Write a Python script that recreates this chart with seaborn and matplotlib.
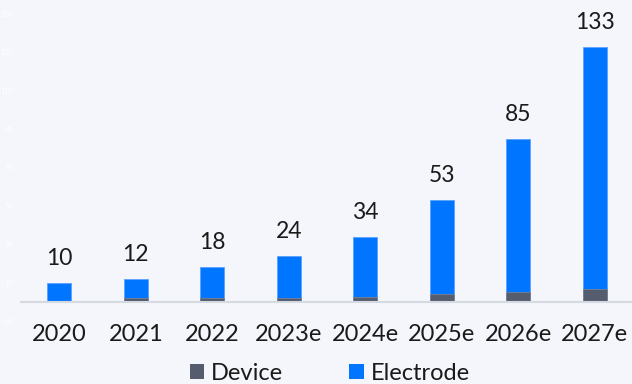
import matplotlib
matplotlib.use("Agg")
import matplotlib.pyplot as plt
from matplotlib.patches import Patch
import seaborn as sns
import pandas as pd

years = ["2020", "2021", "2022", "2023e", "2024e", "2025e", "2026e", "2027e"]
totals = [10, 12, 18, 24, 34, 53, 85, 133]
device = [0, 2, 2, 2, 2.5, 4, 5, 6.5]
electrode = [t - d for t, d in zip(totals, device)]

BG = "#f4f6fb"
BLUE = "#0075ff"
GRAY = "#545c6e"
TEXT = "#1a1a1a"
AXIS = "#d5dae1"
FS = 17

sns.set_theme(style="white")
plt.rcParams["font.family"] = ["Lato", "DejaVu Sans"]

df = pd.DataFrame({"year": years, "total": totals, "device": device, "electrode": electrode})

fig = plt.figure(figsize=(6.32, 3.84), dpi=100, facecolor=BG)
ax = fig.add_axes([21 / 632, 63 / 384, 612 / 632, 307 / 384])
ax.set_facecolor(BG)

# Stack: full column in blue, device share overlaid at the base
sns.barplot(data=df, x="year", y="total", color=BLUE, saturation=1, width=0.31,
            edgecolor="#5aa2ff", linewidth=0.6, ax=ax)
sns.barplot(data=df, x="year", y="device", color=GRAY, saturation=1, width=0.31,
            edgecolor="#7a8294", linewidth=0.6, ax=ax)

for i, t in enumerate(totals):
    ax.annotate(f"{t:g}", (i, t), xytext=(0, 13), textcoords="offset points",
                ha="center", va="baseline", fontsize=FS - 0.5, color=TEXT)

ax.set_ylim(-10, 150)
ax.set_xlim(-0.5, len(years) - 0.5)
ax.set_yticks(range(-10, 151, 20))
ax.tick_params(axis="y", colors="white", labelsize=5, length=0, pad=6)
ax.set_xlabel("")
ax.set_ylabel("")

for s in ["top", "right", "left"]:
    ax.spines[s].set_visible(False)
ax.spines["bottom"].set_position(("data", 0))
ax.spines["bottom"].set_color(AXIS)
ax.spines["bottom"].set_linewidth(1.5)

ax.set_xticks([i - 0.5 for i in range(len(years) + 1)], minor=True)
ax.tick_params(axis="x", which="minor", length=5, width=1.5, color=AXIS, direction="out")
ax.tick_params(axis="x", which="major", length=0, labelsize=FS, labelcolor=TEXT, pad=16)

leg_handles = [Patch(facecolor=GRAY, edgecolor="none"), Patch(facecolor=BLUE, edgecolor="none")]
fig.legend(leg_handles, ["Device", "Electrode"], loc="lower center",
           bbox_to_anchor=(0.522, -0.055), ncol=2, frameon=False,
           fontsize=FS, handlelength=0.62, handleheight=0.62, handletextpad=0.3,
           columnspacing=2.8, labelcolor=TEXT)

fig.savefig("out.png", dpi=100, facecolor=BG)
